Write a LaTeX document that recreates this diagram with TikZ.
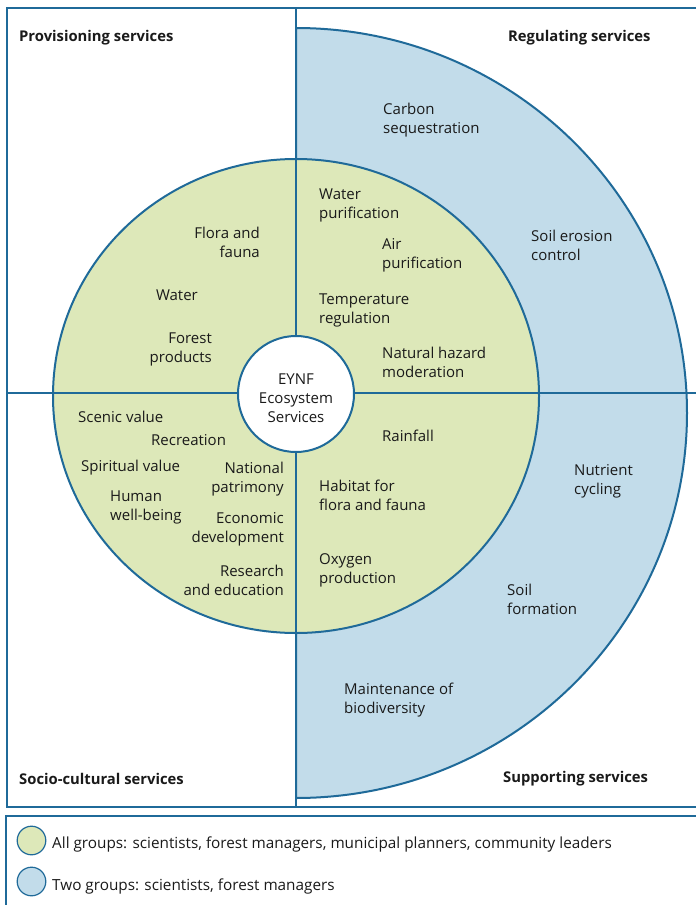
\documentclass[tikz,border=0pt]{standalone}
\usepackage{fontspec}
\setmainfont{Open Sans}
\definecolor{ln}{HTML}{1F6A99}
\definecolor{bl}{HTML}{C2DCEA}
\definecolor{gr}{HTML}{DDE8B9}
\definecolor{tx}{HTML}{1A1A1A}
\begin{document}
\begin{tikzpicture}[x=1pt,y=-1pt,
  lbl/.style={font=\fontsize{15}{19}\selectfont, inner sep=0pt, text=tx},
  lw/.style={lbl, anchor=west, align=left},
  le/.style={lbl, anchor=east, align=right},
  hdr/.style={font=\fontsize{14.8}{17}\selectfont\bfseries, inner sep=0pt, anchor=west, text=tx},
  leg/.style={font=\fontsize{15.3}{17}\selectfont, inner sep=0pt, anchor=west, text=tx},
  rule/.style={draw=ln, line width=2pt}]
\useasboundingbox (0,0) rectangle (696,905);
\fill[white] (0,0) rectangle (696,905);
% frame
\draw[rule] (7,8) rectangle (720,807);
% blue half ellipse
\filldraw[fill=bl, rule] (296,28) arc[start angle=-90, end angle=90, x radius=391, y radius=385] -- cycle;
% green disc
\filldraw[fill=gr, rule] (296,396) ellipse[x radius=243, y radius=237];
% quadrant lines
\draw[rule] (296,8) -- (296,807);
\draw[rule] (7,393) -- (720,393);
% centre
\filldraw[fill=white, rule] (296,394) circle[radius=58];
\node[lbl, align=center] (ctr) at (296,398) {EYNF\\Ecosystem\\Services};
% headers
\node[hdr] (h1) at (19,38) {Provisioning services};
\node[hdr] (h2) at (508,38) {Regulating services};
\node[hdr] (h3) at (19,779) {Socio-cultural services};
\node[hdr] (h4) at (503,779) {Supporting services};
% blue labels
\node[lw] (b1) at (383,120.5) {Carbon\\sequestration};
\node[lw] (b2) at (531,245.5) {Soil erosion\\control};
\node[lw] (b3) at (574,481.5) {Nutrient\\cycling};
\node[lw] (b4) at (507,599) {Soil\\formation};
\node[lw] (b5) at (344,700.5) {Maintenance of\\biodiversity};
% green top-left
\node[le] (g1) at (260,242.5) {Flora and\\fauna};
\node[le] (g2) at (198,295) {Water};
\node[le] (g3) at (212,349.5) {Forest\\products};
% green top-right
\node[lw] (g4) at (319,205.5) {Water\\purification};
\node[lw] (g5) at (382,255.5) {Air\\purification};
\node[lw] (g6) at (319,310.5) {Temperature\\regulation};
\node[lw] (g7) at (382,362.5) {Natural hazard\\moderation};
% green bottom-right
\node[lw] (g8) at (382,436) {Rainfall};
\node[lw] (g9) at (319,495.5) {Habitat for\\flora and fauna};
\node[lw] (g10) at (319,570.5) {Oxygen\\production};
% green bottom-left
\node[lw] (g11) at (78,417) {Scenic value};
\node[lw] (g12) at (151,440) {Recreation};
\node[lw] (g13) at (81,468) {Spiritual value};
\node[le] (g14) at (284,479.5) {National\\patrimony};
\node[lw] (g15) at (110,507.5) {Human\\well-being};
\node[le] (g16) at (284,529.5) {Economic\\development};
\node[le] (g17) at (284,580.5) {Research\\and education};
% legend
\draw[draw=ln, line width=1.5pt] (6,816) rectangle (720,930);
\filldraw[fill=gr, draw=ln, line width=1.2pt] (31.5,840.5) circle[radius=14.3];
\filldraw[fill=bl, draw=ln, line width=1.2pt] (31.5,881.5) circle[radius=14.3];
\node[leg] (l1) at (52,844) {All groups: scientists, forest managers, municipal planners, community leaders};
\node[leg] (l2) at (52,886) {Two groups: scientists, forest managers};
\end{tikzpicture}
\end{document}
